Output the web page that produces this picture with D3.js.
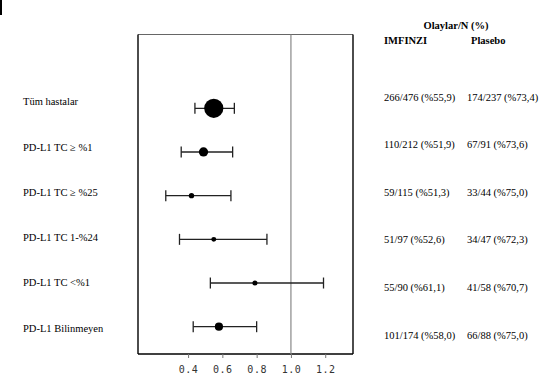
<!DOCTYPE html>
<html><head><meta charset="utf-8">
<script src="https://cdn.jsdelivr.net/npm/d3@7"></script>
<style>body{margin:0;background:#fff}svg{display:block}</style>
</head><body>
<svg id="c" width="541" height="376"></svg>
<script>
const subgroups = ["Tüm hastalar", "PD-L1 TC  \u2265 %1", "PD-L1 TC \u2265 %25", "PD-L1 TC 1-%24", "PD-L1 TC <%1", "PD-L1 Bilinmeyen"];
const hr    = [0.55, 0.49, 0.42, 0.55, 0.79, 0.58];
const lower = [0.44, 0.36, 0.27, 0.35, 0.53, 0.43];
const upper = [0.67, 0.66, 0.65, 0.86, 1.19, 0.80];
const totalN = [713, 303, 159, 144, 148, 262];
const imfinzi = ["266/476 (%55,9)", "110/212 (%51,9)", "59/115 (%51,3)", "51/97 (%52,6)", "55/90 (%61,1)", "101/174 (%58,0)"];
const plasebo = ["174/237 (%73,4)", "67/91 (%73,6)", "33/44 (%75,0)", "34/47 (%72,3)", "41/58 (%70,7)", "66/88 (%75,0)"];
const xTicks = [0.4, 0.6, 0.8, 1.0, 1.2];
const header = "Olaylar/N (%)";
const colHeads = ["IMFINZI", "Plasebo"];

const svg = d3.select("#c");
const box = {l: 138, r: 353, t: 34.5, b: 354};
const x = d3.scaleLinear().domain([0.108, 1.362]).range([box.l, box.r]);
const idx = d3.range(subgroups.length);
const yMark = d3.scaleLinear().domain([0, 5]).range([108.3, 326.7]);
const yLab = d3.scaleLinear().domain([0, 5]).range([101.7, 328]);
const yCol = d3.scaleLinear().domain([0, 5]).range([97, 335]);
const rScale = d3.scalePow().exponent(0.85).domain([0, d3.max(totalN)]).range([0, 9.6]);
const serif = "'Liberation Serif','Times New Roman',serif";

// corner mark
svg.append("rect").attr("x", 0).attr("y", 0).attr("width", 2).attr("height", 15).attr("fill", "#000");

// box
svg.append("line").attr("x1", box.l).attr("x2", box.r).attr("y1", box.t).attr("y2", box.t).attr("stroke", "#666").attr("stroke-width", 1.2);
svg.append("line").attr("x1", box.l).attr("x2", box.l).attr("y1", box.t).attr("y2", box.b).attr("stroke", "#000").attr("stroke-width", 1.4);
svg.append("line").attr("x1", box.r).attr("x2", box.r).attr("y1", box.t).attr("y2", box.b).attr("stroke", "#000").attr("stroke-width", 1.4);

// axis
const axis = d3.axisBottom(x).tickValues(xTicks).tickFormat(d3.format(".1f")).tickSize(4).tickPadding(8);
const ag = svg.append("g").attr("transform", `translate(0,${box.b})`).call(axis);
ag.select(".domain").attr("stroke", "#000").attr("stroke-width", 1.4).attr("d", `M${box.l},0H${box.r}`);
ag.selectAll(".tick line").attr("stroke", "#777");
ag.selectAll(".tick text").attr("font-family", "'DejaVu Sans Mono',monospace").attr("font-size", 10).attr("fill", "#333").attr("letter-spacing", 0.5);

// reference line
svg.append("line").attr("x1", x(1)).attr("x2", x(1)).attr("y1", box.t).attr("y2", box.b).attr("stroke", "#888").attr("stroke-width", 1.2);

// CIs
const g = svg.append("g");
idx.forEach(i => {
  const y = yMark(i);
  g.append("line").attr("x1", x(lower[i])).attr("x2", x(upper[i])).attr("y1", y).attr("y2", y).attr("stroke", "#222").attr("stroke-width", 1.3);
  [lower[i], upper[i]].forEach(v => g.append("line").attr("x1", x(v)).attr("x2", x(v)).attr("y1", y - 5.5).attr("y2", y + 5.5).attr("stroke", "#222").attr("stroke-width", 1.3));
  g.append("circle").attr("cx", x(hr[i])).attr("cy", y).attr("r", rScale(totalN[i])).attr("fill", "#000");
});

// left labels
svg.append("g").selectAll("text").data(subgroups).join("text")
  .attr("x", 23).attr("y", (d, i) => yLab(i)).attr("dy", "0.35em")
  .attr("font-family", serif).attr("font-size", 10.5).attr("fill", "#000").text(d => d);

// header
svg.append("text").attr("x", 456).attr("y", 25).attr("dy", "0.35em").attr("text-anchor", "middle")
  .attr("font-family", serif).attr("font-weight", "bold").attr("font-size", 10.5).text(header);
svg.append("text").attr("x", 384).attr("y", 40).attr("dy", "0.35em")
  .attr("font-family", serif).attr("font-weight", "bold").attr("font-size", 10.5).text(colHeads[0]);
svg.append("text").attr("x", 471).attr("y", 40).attr("dy", "0.35em")
  .attr("font-family", serif).attr("font-weight", "bold").attr("font-size", 10.5).text(colHeads[1]);

// value columns
svg.append("g").selectAll("text").data(imfinzi).join("text")
  .attr("x", 384).attr("y", (d, i) => yCol(i)).attr("dy", "0.35em")
  .attr("font-family", serif).attr("font-size", 10.5).text(d => d);
svg.append("g").selectAll("text").data(plasebo).join("text")
  .attr("x", 467).attr("y", (d, i) => yCol(i)).attr("dy", "0.35em")
  .attr("font-family", serif).attr("font-size", 10.5).text(d => d);
</script>
</body></html>
